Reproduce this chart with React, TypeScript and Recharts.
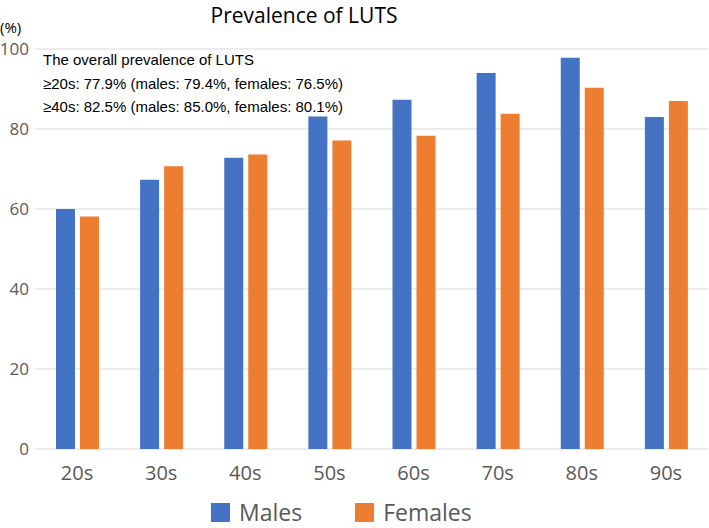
import { BarChart, Bar, XAxis, YAxis, CartesianGrid } from "recharts"

const ages = ["20s", "30s", "40s", "50s", "60s", "70s", "80s", "90s"]
const males = [60, 67.3, 72.8, 83.1, 87.3, 94, 97.8, 83]
const females = [58.1, 70.7, 73.6, 77.1, 78.3, 83.8, 90.3, 87]
const yTicks = [0, 20, 40, 60, 80, 100]
const notes = [
  "The overall prevalence of LUTS",
  "≥20s: 77.9% (males: 79.4%, females: 76.5%)",
  "≥40s: 82.5% (males: 85.0%, females: 80.1%)",
]

const data = ages.map((age, i) => ({ age, males: males[i], females: females[i] }))

const FONT = "'Open Sans', 'Noto Sans', sans-serif"
const GREY = "#595959"
const series = [
  { key: "males", name: "Males", color: "#4472c4" },
  { key: "females", name: "Females", color: "#ed7d31" },
]

export default function App() {
  return (
    <div style={{ position: "absolute", left: 0, top: 0, width: 709, height: 528, background: "#fff" }}>
      <div style={{ position: "absolute", left: 0, top: 1, width: 608, textAlign: "center", fontFamily: FONT, fontSize: 21, color: "#000", lineHeight: "28px" }}>
        Prevalence of LUTS
      </div>
      <div style={{ position: "absolute", left: 0, top: 17, fontFamily: FONT, fontSize: 15, color: "#000", lineHeight: "20px" }}>(%)</div>
      <BarChart
        width={709}
        height={528}
        data={data}
        margin={{ top: 49, right: 1, left: 0, bottom: 39 }}
        barSize={19}
        barGap={5}
      >
        <CartesianGrid vertical={false} stroke="#d9d9d9" />
        <XAxis
          dataKey="age"
          axisLine={false}
          tickLine={false}
          tickSize={6}
          tickMargin={11}
          height={40}
          tick={{ fontFamily: FONT, fontSize: 20, fill: GREY }}
        />
        <YAxis
          domain={[0, 100]}
          ticks={yTicks}
          width={35}
          axisLine={false}
          tickLine={false}
          tickSize={6}
          tickMargin={0}
          tick={{ fontFamily: FONT, fontSize: 17, fill: GREY }}
        />
        {series.map((s) => (
          <Bar key={s.key} dataKey={s.key} name={s.name} fill={s.color} isAnimationActive={false} />
        ))}
      </BarChart>
      {notes.map((t, i) => (
        <div
          key={i}
          style={{
            position: "absolute",
            left: 43,
            top: 51 + i * 23.5,
            fontFamily: "'Liberation Sans', Arial, sans-serif",
            fontSize: 15,
            color: "#000",
            whiteSpace: "nowrap",
          }}
        >
          {t}
        </div>
      ))}
      <div style={{ position: "absolute", left: 211, top: 499, display: "flex", gap: 53 }}>
        {series.map((s) => (
          <div key={s.key} style={{ display: "flex", alignItems: "center" }}>
            <span style={{ width: 19, height: 19, background: s.color, display: "inline-block", marginRight: 9 }} />
            <span style={{ fontFamily: FONT, fontSize: 23, color: GREY, lineHeight: "26px" }}>{s.name}</span>
          </div>
        ))}
      </div>
    </div>
  )
}
